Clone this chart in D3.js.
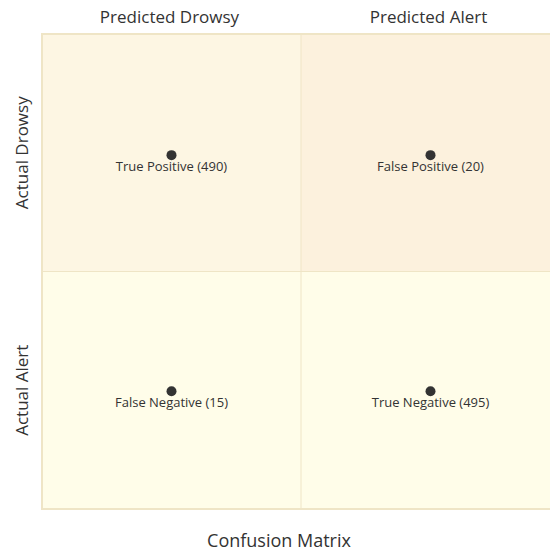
<!DOCTYPE html>
<html><head><meta charset="utf-8">
<script src="https://cdn.jsdelivr.net/npm/d3@7"></script>
<style>body{margin:0;background:#fff;overflow:hidden}svg text{font-family:"Open Sans",sans-serif}</style>
</head><body>
<script>
const title = "Confusion Matrix";
const xLabels = ["Predicted Drowsy", "Predicted Alert"];
const yLabels = ["Actual Alert", "Actual Drowsy"];
const quadrantFills = ["#fffde9", "#fffde9", "#fdf6e3", "#fcf1dd"]; // bottom-left, bottom-right, top-left, top-right
const pointNames = ["True Positive (490)", "False Positive (20)", "False Negative (15)", "True Negative (495)"];
const pointX = [0.25, 0.75, 0.25, 0.75];
const pointY = [0.745, 0.745, 0.248, 0.248];

const W = 550, H = 554;
const svg = d3.select("body").append("svg").attr("width", W).attr("height", H);
const x = d3.scaleLinear().domain([0, 1]).range([42, 560]);
const y = d3.scaleLinear().domain([0, 1]).range([509, 34]);

const quads = [[0,0],[0.5,0],[0,0.5],[0.5,0.5]];
svg.selectAll("rect.q").data(quads).enter().append("rect")
  .attr("x", d => x(d[0])).attr("y", d => y(d[1] + 0.5))
  .attr("width", x(0.5) - x(0)).attr("height", y(0) - y(0.5))
  .attr("fill", (d, i) => quadrantFills[i]);

svg.append("rect").attr("x", x(0)).attr("y", y(1)).attr("width", x(1) - x(0)).attr("height", y(0) - y(1))
  .attr("fill", "none").attr("stroke", "#efe5c6").attr("stroke-width", 2);
svg.append("line").attr("x1", x(0.5)).attr("x2", x(0.5)).attr("y1", y(1)).attr("y2", y(0))
  .attr("stroke", "#efe5c6").attr("stroke-width", 1);
svg.append("line").attr("x1", x(0)).attr("x2", x(1)).attr("y1", y(0.5)).attr("y2", y(0.5))
  .attr("stroke", "#efe5c6").attr("stroke-width", 1);

svg.selectAll("text.xl").data(xLabels).enter().append("text")
  .attr("x", (d, i) => x(i * 0.5 + 0.25) - 2).attr("y", 23)
  .attr("text-anchor", "middle").attr("font-size", 17).attr("fill", "#333").text(d => d);
svg.selectAll("text.yl").data(yLabels).enter().append("text")
  .attr("transform", (d, i) => `translate(28,${y(i * 0.5 + 0.25)}) rotate(-90)`)
  .attr("text-anchor", "middle").attr("font-size", 17).attr("fill", "#333").text(d => d);

const pts = svg.selectAll("g.p").data(pointNames).enter().append("g")
  .attr("transform", (d, i) => `translate(${x(pointX[i])},${y(pointY[i])})`);
pts.append("circle").attr("r", 5).attr("fill", "#333");
pts.append("text").attr("y", 16).attr("text-anchor", "middle").attr("font-size", 13).attr("fill", "#333").text(d => d);

svg.append("text").attr("x", x(0.5) - 22).attr("y", 547).attr("text-anchor", "middle")
  .attr("font-size", 18).attr("fill", "#333").text(title);
</script>
</body></html>
